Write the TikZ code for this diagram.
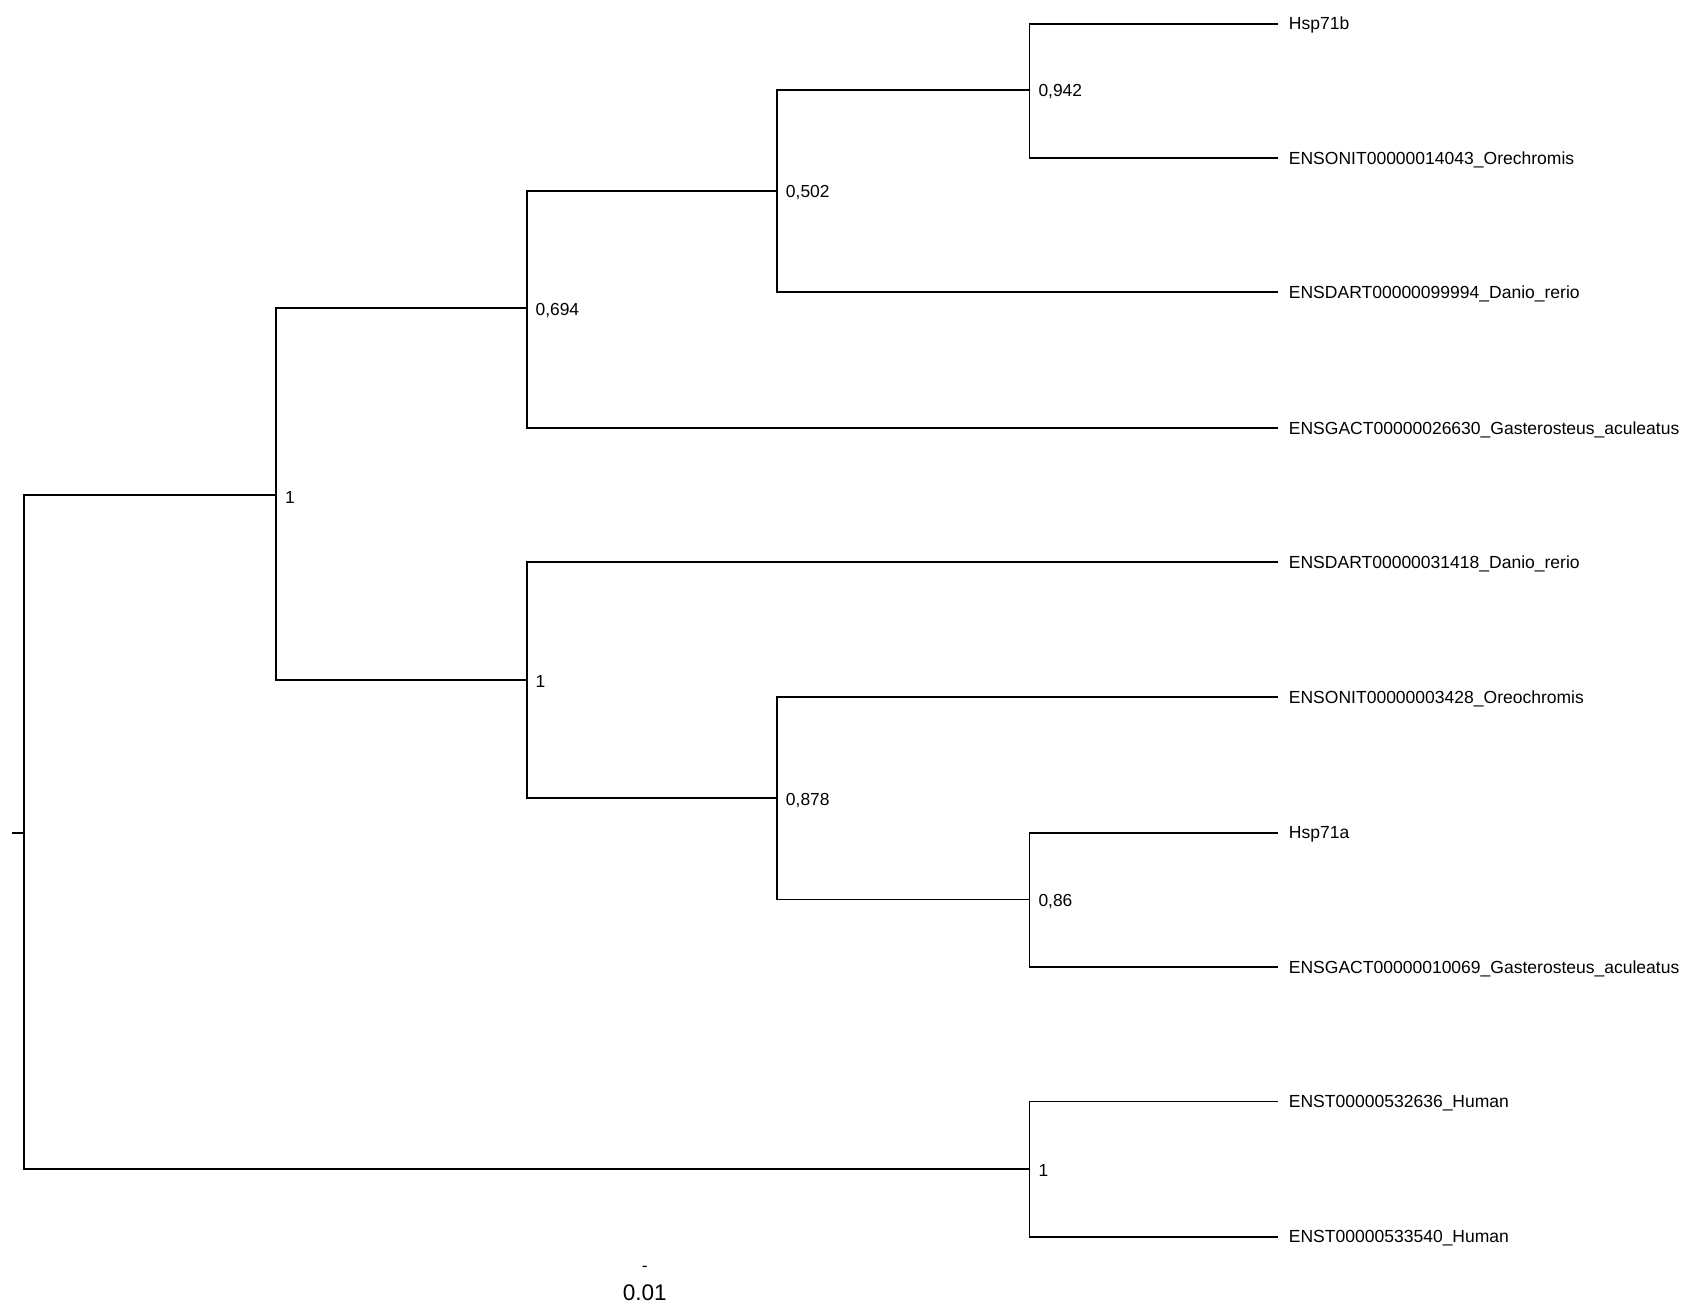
\documentclass[tikz,border=0pt]{standalone}
\usepackage{fontspec}
\setmainfont{Liberation Sans}
\begin{document}
\begin{tikzpicture}[x=0.5pt,y=-0.5pt,
  edge/.style={line width=0.9pt,line cap=rect},
  leaf/.style={anchor=west,inner xsep=5.5pt,inner ysep=0pt,yshift=-0.8pt,font=\fontsize{8.15}{9}\selectfont},
  support/.style={anchor=west,inner xsep=4pt,inner ysep=0pt,yshift=-0.8pt,font=\fontsize{8.1}{9}\selectfont}]
\useasboundingbox (0,0) rectangle (1568,1215);
% internal nodes
\coordinate (r0) at (12,775);
\coordinate (r) at (22,775);
\coordinate (A) at (257,461);
\coordinate (B) at (490,287);
\coordinate (C) at (723,178);
\coordinate (D) at (958,84);
\coordinate (E) at (490,633);
\coordinate (F) at (723,743);
\coordinate (G) at (958,837);
\coordinate (H) at (958,1088);
% leaf end points
\coordinate (e1) at (1188,22);
\coordinate (e2) at (1188,147);
\coordinate (e3) at (1188,272);
\coordinate (e4) at (1188,398);
\coordinate (e5) at (1188,523);
\coordinate (e6) at (1188,649);
\coordinate (e7) at (1188,775);
\coordinate (e8) at (1188,900);
\coordinate (e9) at (1188,1025);
\coordinate (e10) at (1188,1151);
% leaves
\node[leaf] (l1) at (e1) {Hsp71b};
\node[leaf] (l2) at (e2) {ENSONIT00000014043\_Orechromis};
\node[leaf] (l3) at (e3) {ENSDART00000099994\_Danio\_rerio};
\node[leaf] (l4) at (e4) {ENSGACT00000026630\_Gasterosteus\_aculeatus};
\node[leaf] (l5) at (e5) {ENSDART00000031418\_Danio\_rerio};
\node[leaf] (l6) at (e6) {ENSONIT00000003428\_Oreochromis};
\node[leaf] (l7) at (e7) {Hsp71a};
\node[leaf] (l8) at (e8) {ENSGACT00000010069\_Gasterosteus\_aculeatus};
\node[leaf] (l9) at (e9) {ENST00000532636\_Human};
\node[leaf] (l10) at (e10) {ENST00000533540\_Human};
% support values
\node[support] (sA) at (A) {1};
\node[support] (sB) at (B) {0,694};
\node[support] (sC) at (C) {0,502};
\node[support] (sD) at (D) {0,942};
\node[support] (sE) at (E) {1};
\node[support] (sF) at (F) {0,878};
\node[support] (sG) at (G) {0,86};
\node[support] (sH) at (H) {1};
% edges
\draw[edge] (r0) -- (r);
\draw[edge] (r) |- (A);
\draw[edge] (r) |- (H);
\draw[edge] (A) |- (B);
\draw[edge] (A) |- (E);
\draw[edge] (B) |- (C);
\draw[edge] (B) |- (e4);
\draw[edge] (C) |- (D);
\draw[edge] (C) |- (e3);
\draw[edge] (D) |- (e1);
\draw[edge] (D) |- (e2);
\draw[edge] (E) |- (e5);
\draw[edge] (E) |- (F);
\draw[edge] (F) |- (e6);
\draw[edge] (F) |- (G);
\draw[edge] (G) |- (e7);
\draw[edge] (G) |- (e8);
\draw[edge] (H) |- (e9);
\draw[edge] (H) |- (e10);
% scale bar
\node[inner sep=0pt,font=\fontsize{8}{9}\selectfont] (sbar) at (600,1181) {-};
\node[inner sep=0pt,font=\fontsize{10.5}{12}\selectfont] (slabel) at (600,1203) {0.01};
\end{tikzpicture}
\end{document}
